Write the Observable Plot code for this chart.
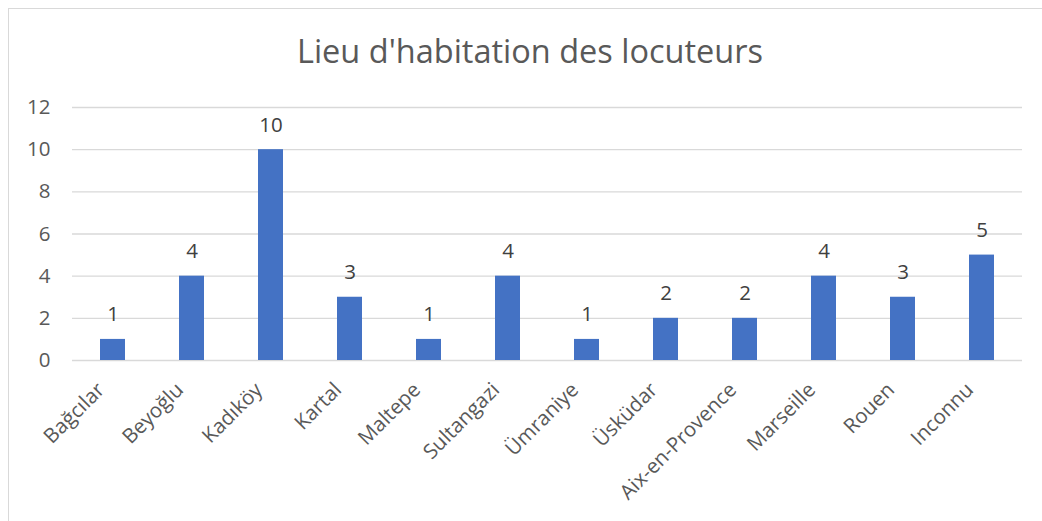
<!DOCTYPE html>
<html>
<head>
<meta charset="utf-8">
<script src="https://cdn.jsdelivr.net/npm/d3@7"></script>
<script src="https://cdn.jsdelivr.net/npm/@observablehq/plot@0.6"></script>
<style>
  html, body { margin: 0; padding: 0; background: #fff; }
  #wrap { position: relative; width: 1042px; height: 521px; overflow: hidden; font-family: "Open Sans", sans-serif; }
  #frame { position: absolute; left: 8px; top: 8px; width: 1060px; height: 540px; border: 1px solid #d9d9d9; box-sizing: border-box; }
  #title { position: absolute; left: 9px; width: 1042px; top: 31px; text-align: center; font-size: 32.5px; color: #595959; line-height: 40px; }
  #chart { position: absolute; left: 0; top: 0; }
</style>
</head>
<body>
<div id="wrap">
  <div id="frame"></div>
  <div id="chart"></div>
  <div id="title">Lieu d'habitation des locuteurs</div>
</div>
<script>
const categories = ["Bağcılar", "Beyoğlu", "Kadıköy", "Kartal", "Maltepe", "Sultangazi", "Ümraniye", "Üsküdar", "Aix-en-Provence", "Marseille", "Rouen", "Inconnu"];
const values = [1, 4, 10, 3, 1, 4, 1, 2, 2, 4, 3, 5];
const yTicks = [0, 2, 4, 6, 8, 10, 12];

const data = categories.map((c, i) => ({ lieu: c, n: values[i] }));

const chart = Plot.plot({
  width: 1042,
  height: 521,
  marginLeft: 72,
  marginRight: 20,
  marginTop: 107,
  marginBottom: 161,
  style: { fontFamily: "Open Sans, sans-serif", fontSize: "20px", color: "#595959", background: "transparent" },
  x: { domain: categories, paddingInner: 0.684, paddingOuter: 0.342, label: null },
  y: { domain: [0, 12], ticks: yTicks, label: null },
  marks: [
    Plot.gridY(yTicks, { stroke: "#d9d9d9", strokeOpacity: 1, strokeWidth: 1.3 }),
    Plot.axisY(yTicks, { tickSize: 0, tickPadding: 22, fontSize: 20.5, fill: "#595959", label: null }),
    Plot.axisX({ tickSize: 0, tickPadding: 12, dx: -12, dy: 14, tickRotate: -45, fontSize: 20.5, fill: "#595959", label: null }),
    Plot.barY(data, { x: "lieu", y: "n", fill: "#4472C4" }),
    Plot.text(data, { x: "lieu", y: "n", text: d => String(d.n), lineAnchor: "bottom", dy: -18, fontSize: 20.5, fill: "#404040" })
  ]
});
document.getElementById("chart").appendChild(chart);
</script>
</body>
</html>
